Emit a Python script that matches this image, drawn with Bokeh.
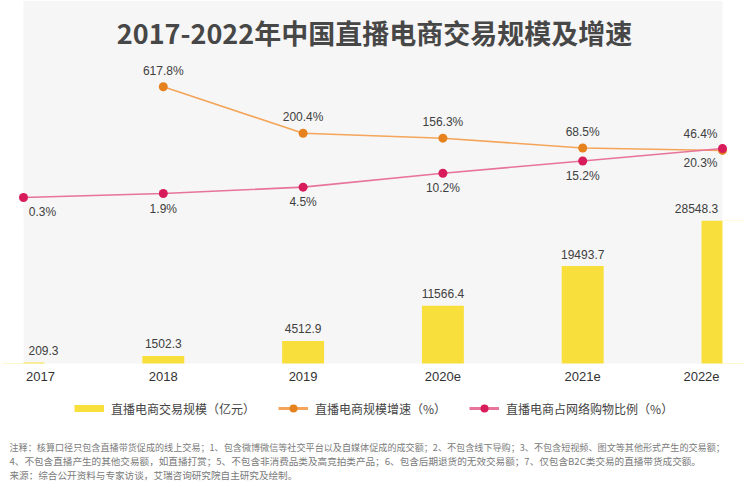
from bokeh.plotting import figure
from bokeh.models import Range1d, Label, Legend, LegendItem, BoxAnnotation
from bokeh.core.properties import value
from bokeh.embed import file_html
from bokeh.resources import INLINE

# ---------------- data ----------------
years = ["2017", "2018", "2019", "2020e", "2021e", "2022e"]
gmv = [209.3, 1502.3, 4512.9, 11566.4, 19493.7, 28548.3]          # 亿元
growth = [None, 617.8, 200.4, 156.3, 68.5, 46.4]                    # %
share = [0.3, 1.9, 4.5, 10.2, 15.2, 20.3]                           # %
title_text = "2017-2022年中国直播电商交易规模及增速"
legend_labels = ["直播电商交易规模（亿元）", "直播电商规模增速（%）", "直播电商占网络购物比例（%）"]
notes = [
    "注释：核算口径只包含直播带货促成的线上交易；1、包含微博微信等社交平台以及自媒体促成的成交额；2、不包含线下导购；3、不包含短视频、图文等其他形式产生的交易额；",
    "4、不包含直播产生的其他交易额，如直播打赏；5、不包含非消费品类及高竞拍类产品；6、包含后期退货的无效交易额；7、仅包含B2C类交易的直播带货成交额。",
    "来源：综合公开资料与专家访谈，艾瑞咨询研究院自主研究及绘制。",
]

# ---------------- styles ----------------
YELLOW = "#F9DF3C"
ORANGE_LINE = "#F4A55A"
ORANGE_DOT = "#E6821E"
PINK_LINE = "#E8739B"
PINK_DOT = "#D81C5B"
GRAY_BG = "#f6f6f6"
TXT = "#404040"
NUM_FONT = "Liberation Sans"
CJK_FONT = "Noto Sans CJK SC"
NAN = float("nan")

n = len(years)
xs = list(range(n))


def edge_offsets(left, right):
    offs = [0] * n
    offs[0] = left
    offs[-1] = right
    return offs


# frame covers the whole canvas; ranges chosen so the chart sits in the gray panel
p = figure(
    width=744, height=500,
    x_range=Range1d(-0.16452, n - 1 + 0.15737), y_range=Range1d(-27400, 72600),
    output_backend="svg", toolbar_location=None,
    x_axis_location=None, y_axis_location=None,
    min_border=0,
    background_fill_color="white", border_fill_color="white",
    outline_line_color=None,
)
p.grid.visible = False
p.extra_y_ranges = {
    "growth": Range1d(-3096, 1392.3),
    "share": Range1d(-123.39, 80.69),
}

# gray chart panel
p.add_layout(BoxAnnotation(left=0, right=n - 1, bottom=0, top=None,
                           fill_color=GRAY_BG, fill_alpha=1, line_color=None,
                           level="underlay"))

# bars
p.vbar(x=xs, top=gmv, width=0.3, fill_color=YELLOW, line_color=None)
# bars are cut at the panel edges
p.add_layout(BoxAnnotation(right=0, bottom=0, top=max(gmv), fill_color="white",
                           fill_alpha=1, line_color=None, level="glyph"))
p.add_layout(BoxAnnotation(left=n - 1, bottom=0, top=max(gmv), fill_color="white",
                           fill_alpha=1, line_color=None, level="glyph"))

p.text(x=xs, y=gmv, text=[f"{v:.1f}" for v in gmv],
       x_offset=edge_offsets(20, -26), y_offset=-12,
       text_align="center", text_baseline="middle",
       text_font=value(NUM_FONT), text_font_size="12px", text_color=TXT)

# growth line
gx = [i for i, v in enumerate(growth) if v is not None]
gy = [v for v in growth if v is not None]
p.line(gx, gy, y_range_name="growth", line_color=ORANGE_LINE, line_width=1.6)
p.scatter(gx, gy, y_range_name="growth", size=9, fill_color=ORANGE_DOT, line_color=None)
g_off = [0] * len(gx)
g_off[-1] = -22
p.text(x=gx, y=gy, text=[f"{v:.1f}%" for v in gy], y_range_name="growth",
       x_offset=g_off, y_offset=-16,
       text_align="center", text_baseline="middle",
       text_font=value(NUM_FONT), text_font_size="12px", text_color=TXT)

# share line
p.line(xs, share, y_range_name="share", line_color=PINK_LINE, line_width=1.6)
p.scatter(xs, share, y_range_name="share", size=9, fill_color=PINK_DOT, line_color=None)
p.text(x=xs, y=share, text=[f"{v:.1f}%" for v in share], y_range_name="share",
       x_offset=edge_offsets(19, -22), y_offset=15,
       text_align="center", text_baseline="middle",
       text_font=value(NUM_FONT), text_font_size="12px", text_color=TXT)

# category labels under the panel
tick_offs = edge_offsets(17, -21)
for i, yr in enumerate(years):
    p.add_layout(Label(x=i, x_units="data", y=124, y_units="screen", text=yr,
                       x_offset=tick_offs[i], text_align="center", text_baseline="middle",
                       text_font=NUM_FONT, text_font_size="13px", text_color="#333333"))

# title
p.add_layout(Label(x=374, y=468, x_units="screen", y_units="screen", text=title_text,
                   text_align="center", text_baseline="middle",
                   text_font=CJK_FONT, text_font_size="27px", text_font_style="bold",
                   text_color="#474747"))

# legend swatches (legend-only renderers, no visible data)
sw_bar = p.line(x=[NAN], y=[NAN], line_color=YELLOW, line_width=7, line_cap="butt")
sw_g_line = p.line(x=[NAN], y=[NAN], line_color=ORANGE_LINE, line_width=3)
sw_g_dot = p.scatter(x=[NAN], y=[NAN], size=9, fill_color=ORANGE_DOT, line_color=None)
sw_s_line = p.line(x=[NAN], y=[NAN], line_color=PINK_LINE, line_width=3)
sw_s_dot = p.scatter(x=[NAN], y=[NAN], size=9, fill_color=PINK_DOT, line_color=None)
legend = Legend(
    items=[
        LegendItem(label=legend_labels[0], renderers=[sw_bar]),
        LegendItem(label=legend_labels[1], renderers=[sw_g_line, sw_g_dot]),
        LegendItem(label=legend_labels[2], renderers=[sw_s_line, sw_s_dot]),
    ],
    orientation="horizontal", location=(74, 82),
    glyph_width=30, glyph_height=20, label_standoff=7, spacing=23,
    padding=4, margin=0, border_line_color=None, background_fill_alpha=0,
    label_text_font=CJK_FONT, label_text_font_size="12px", label_text_color="#444444",
)
p.add_layout(legend)

# footnotes (the first, longest line is set a little smaller so it fits)
note_sizes = ["9.1px", "9.6px", "9.6px"]
for k, line in enumerate(notes):
    p.add_layout(Label(x=9, y=54 - 14 * k, x_units="screen", y_units="screen", text=line,
                       text_baseline="middle", text_font=CJK_FONT, text_font_size=note_sizes[k],
                       text_color="#7a7a7a"))

open("out.html", "w").write(file_html(p, INLINE))
